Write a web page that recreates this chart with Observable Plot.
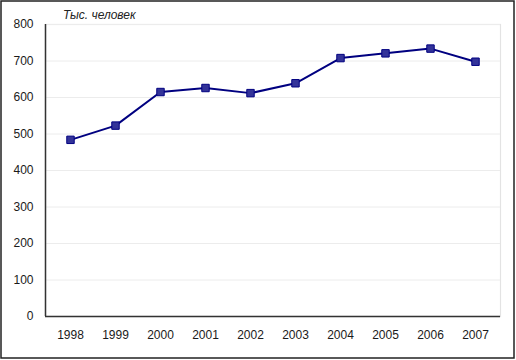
<!DOCTYPE html>
<html>
<head>
<meta charset="utf-8">
<script src="https://cdn.jsdelivr.net/npm/d3@7"></script>
<script src="https://cdn.jsdelivr.net/npm/@observablehq/plot@0.6"></script>
<style>
  html, body { margin: 0; padding: 0; background: #fff; }
  #chart { width: 516px; height: 360px; }
</style>
</head>
<body>
<div id="chart"></div>
<script>
const years = ["1998","1999","2000","2001","2002","2003","2004","2005","2006","2007"];
const values = [484, 523, 615, 626, 612, 639, 708, 721, 734, 698];
const yTicks = [0, 100, 200, 300, 400, 500, 600, 700, 800];
const unitLabel = "Тыс. человек";

const data = years.map((y, i) => ({year: y, value: values[i]}));

const plot = Plot.plot({
  width: 516,
  height: 360,
  marginLeft: 45,
  marginRight: 16,
  marginTop: 24,
  marginBottom: 44,
  style: {fontFamily: "'Liberation Sans', Arial, sans-serif", fontSize: "12px", color: "#1a1a1a", background: "#fff"},
  x: {type: "point", domain: years, padding: 0.5, label: null},
  y: {domain: [0, 800], label: null},
  marks: [
    Plot.frame({stroke: "#e3e3e3", strokeWidth: 1.2}),
    Plot.gridY(yTicks, {stroke: "#ececec", strokeOpacity: 1, strokeWidth: 1}),
    Plot.axisY(yTicks, {tickSize: 0, tickPadding: 12, fontSize: 12, fill: "#1a1a1a", label: null}),
    Plot.axisX({tickSize: 0, tickPadding: 14, fontSize: 12, fill: "#1a1a1a", label: null}),
    Plot.ruleY([0], {stroke: "#333", strokeWidth: 1.5}),
    Plot.line(data, {x: "year", y: "value", stroke: "#000080", strokeWidth: 2}),
    Plot.dot(data, {x: "year", y: "value", symbol: "square", r: 4.2, fill: "#333399", stroke: "#000080", strokeWidth: 1})
  ]
});

document.getElementById("chart").appendChild(plot);

const svg = d3.select(plot);
// left axis line
svg.append("line")
  .attr("x1", 45.5).attr("x2", 45.5).attr("y1", 24).attr("y2", 316)
  .attr("stroke", "#333").attr("stroke-width", 1.5);
// unit label
svg.append("text")
  .attr("x", 63).attr("y", 19)
  .attr("text-anchor", "start")
  .attr("font-family", "'Liberation Sans', Arial, sans-serif")
  .attr("font-size", 12).attr("font-style", "italic")
  .attr("fill", "#222")
  .text(unitLabel);
// outer border
svg.append("rect")
  .attr("x", 1).attr("y", 1).attr("width", 513).attr("height", 357)
  .attr("fill", "none").attr("stroke", "#222").attr("stroke-width", 1.5);
</script>
</body>
</html>
